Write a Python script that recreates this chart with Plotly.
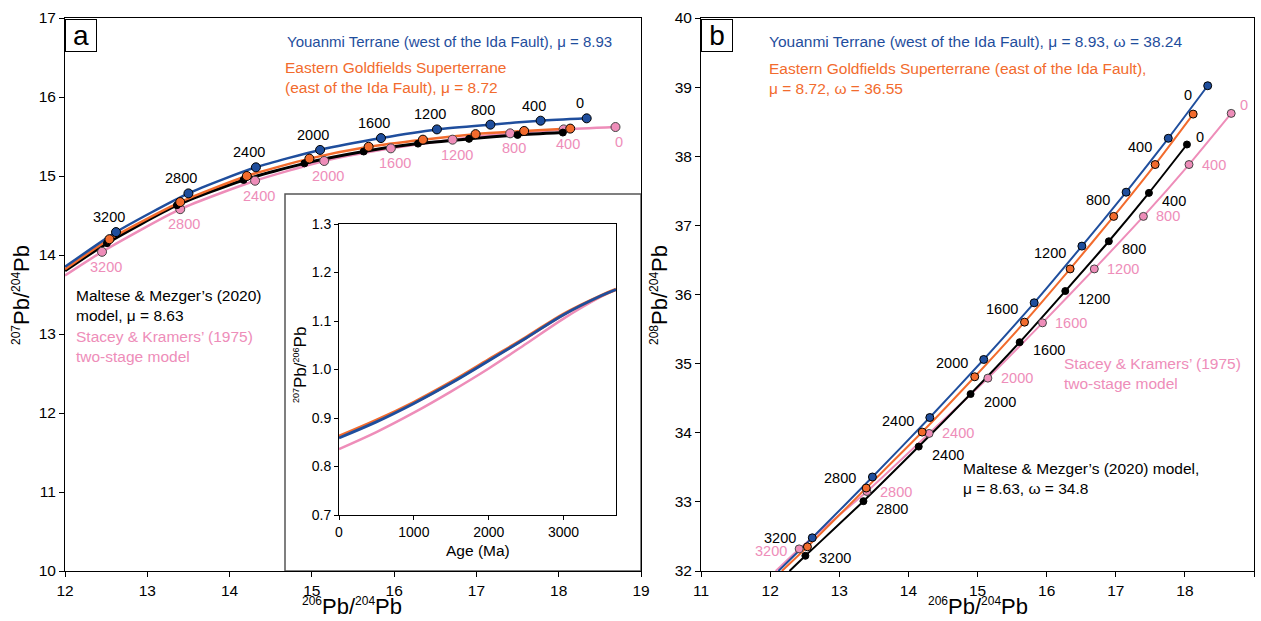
import plotly.graph_objects as go

# ---------------- data ----------------
ages = [0, 400, 800, 1200, 1600, 2000, 2400, 2800, 3200]
age_labels = [str(a) for a in ages]

# panel a: 207Pb/204Pb vs 206Pb/204Pb
a_blue_x = [18.34, 17.78, 17.17, 16.52, 15.84, 15.10, 14.32, 13.50, 12.62]
a_blue_y = [15.73, 15.70, 15.65, 15.59, 15.48, 15.33, 15.11, 14.78, 14.29]
a_orange_x = [18.14, 17.58, 16.99, 16.35, 15.69, 14.97, 14.21, 13.40, 12.54]
a_orange_y = [15.60, 15.57, 15.53, 15.46, 15.37, 15.22, 15.00, 14.67, 14.20]
a_black_x = [18.05, 17.50, 16.91, 16.29, 15.63, 14.91, 14.17, 13.36, 12.51]
a_black_y = [15.55, 15.52, 15.47, 15.41, 15.31, 15.16, 14.95, 14.63, 14.15]
a_pink_x = [18.69, 18.06, 17.41, 16.71, 15.96, 15.15, 14.31, 13.40, 12.45]
a_pink_y = [15.62, 15.59, 15.54, 15.46, 15.35, 15.19, 14.94, 14.58, 14.04]
# where each curve leaves the left edge of panel a (blue, orange, black, pink)
a_edge_x = [12.0, 12.0, 12.0, 12.0]
a_edge_y = [13.85, 13.82, 13.80, 13.74]

# panel b: 208Pb/204Pb vs 206Pb/204Pb
b_blue_x = [18.33, 17.76, 17.15, 16.51, 15.82, 15.09, 14.31, 13.48, 12.61]
b_blue_y = [39.02, 38.26, 37.48, 36.70, 35.88, 35.06, 34.22, 33.36, 32.48]
b_orange_x = [18.12, 17.57, 16.97, 16.34, 15.68, 14.96, 14.20, 13.39, 12.54]
b_orange_y = [38.61, 37.88, 37.13, 36.37, 35.60, 34.81, 34.01, 33.20, 32.35]
b_black_x = [18.03, 17.48, 16.90, 16.27, 15.61, 14.90, 14.15, 13.35, 12.51]
b_black_y = [38.17, 37.47, 36.77, 36.05, 35.31, 34.56, 33.80, 33.01, 32.22]
b_pink_x = [18.67, 18.06, 17.40, 16.69, 15.94, 15.15, 14.30, 13.40, 12.42]
b_pink_y = [38.62, 37.88, 37.13, 36.37, 35.59, 34.79, 33.99, 33.15, 32.32]
# where each line leaves the bottom edge of panel b (blue, orange, black, pink)
b_edge_x = [12.12, 12.17, 12.28, 12.08]
b_edge_y = [32.0, 32.0, 32.0, 32.0]

# inset: 207Pb/206Pb vs age
inset_age = [0, 500, 1000, 1500, 2000, 2500, 3000, 3500, 3700]
inset_blue = [0.859, 0.892, 0.930, 0.972, 1.018, 1.065, 1.113, 1.152, 1.165]
inset_orange = [0.862, 0.895, 0.932, 0.974, 1.020, 1.066, 1.114, 1.152, 1.165]
inset_pink = [0.836, 0.871, 0.911, 0.955, 1.002, 1.053, 1.105, 1.150, 1.165]

# ---------------- style ----------------
BLUE = "#1F4E9D"
ORANGE = "#F26B2D"
PINK = "#EE8DB9"
BLACK = "#000000"
FONT = "Liberation Sans, Arial, sans-serif"
W, H = 1261, 621


def px(x):
    return x / W


def py(y):
    return 1 - y / H


fig = go.Figure()


def curve(x, y, ex, ey, color, width, xa, ya):
    fig.add_trace(go.Scatter(
        x=[ex] + list(reversed(x)), y=[ey] + list(reversed(y)),
        mode="lines", line=dict(color=color, width=width, shape="spline", smoothing=0.6),
        xaxis=xa, yaxis=ya, hoverinfo="skip", showlegend=False))


def marks(x, y, fill, edge, size, xa, ya):
    fig.add_trace(go.Scatter(
        x=x, y=y, mode="markers",
        marker=dict(color=fill, size=size, line=dict(color=edge, width=1)),
        xaxis=xa, yaxis=ya, showlegend=False))


series_a = [
    (a_pink_x, a_pink_y, PINK, "#444444", 2.5, 3),
    (a_black_x, a_black_y, BLACK, BLACK, 3, 2),
    (a_orange_x, a_orange_y, ORANGE, BLACK, 2.5, 1),
    (a_blue_x, a_blue_y, BLUE, BLACK, 2.5, 0),
]
for x, y, c, e, w, k in series_a:
    curve(x, y, a_edge_x[k], a_edge_y[k], c, w, "x", "y")
for x, y, c, e, w, k in series_a:
    marks(x, y, c, e, 9 if c != BLACK else 7, "x", "y")

series_b = [
    (b_pink_x, b_pink_y, PINK, "#444444", 3),
    (b_black_x, b_black_y, BLACK, BLACK, 2),
    (b_orange_x, b_orange_y, ORANGE, BLACK, 1),
    (b_blue_x, b_blue_y, BLUE, BLACK, 0),
]
for x, y, c, e, k in series_b:
    curve(x, y, b_edge_x[k], b_edge_y[k], c, 2, "x2", "y2")
for x, y, c, e, k in series_b:
    marks(x, y, c, e, 8 if c != BLACK else 7, "x2", "y2")

# inset curves
for yv, c, w in [(inset_pink, PINK, 2.5), (inset_orange, ORANGE, 3.5), (inset_blue, BLUE, 2.8)]:
    fig.add_trace(go.Scatter(x=inset_age, y=yv, mode="lines",
                             line=dict(color=c, width=w, shape="spline"),
                             xaxis="x3", yaxis="y3", showlegend=False, hoverinfo="skip"))

ann = []
AGEF = dict(family=FONT, size=14.5)

# panel a age labels
for x, y, t in zip(a_blue_x, a_blue_y, age_labels):
    ann.append(dict(x=x, y=y, xref="x", yref="y", text=t, showarrow=False,
                    xanchor="center", yanchor="middle",
                    xshift=-7, yshift=15, font=dict(AGEF, color=BLACK)))
for x, y, t in zip(a_pink_x, a_pink_y, age_labels):
    ann.append(dict(x=x, y=y, xref="x", yref="y", text=t, showarrow=False,
                    xanchor="center", yanchor="middle",
                    xshift=4, yshift=-15, font=dict(AGEF, color=PINK)))

# panel b age labels (label drop below the blue point shrinks with age)
blue_label_drop = [9, 9, 8, 7, 6, 4, 3, 1, 0]
for i, (x, y, t) in enumerate(zip(b_blue_x, b_blue_y, age_labels)):
    ann.append(dict(x=x, y=y, xref="x2", yref="y2", text=t, showarrow=False,
                    xanchor="right", yanchor="middle", xshift=-14, yshift=-blue_label_drop[i],
                    font=dict(AGEF, color=BLACK)))
for i, (x, y, t) in enumerate(zip(b_black_x, b_black_y, age_labels)):
    if i == 0:
        sh = dict(xshift=7, yshift=8)
    elif i == len(age_labels) - 1:
        sh = dict(xshift=12, yshift=-2)
    else:
        sh = dict(xshift=11, yshift=-8)
    ann.append(dict(x=x, y=y, xref="x2", yref="y2", text=t, showarrow=False,
                    xanchor="left", yanchor="middle", font=dict(AGEF, color=BLACK), **sh))
for i, (x, y, t) in enumerate(zip(b_pink_x, b_pink_y, age_labels)):
    if i == 0:
        sh = dict(xanchor="left", xshift=7, yshift=8)
    elif i == len(age_labels) - 1:
        sh = dict(xanchor="right", xshift=-10, yshift=-2)
    else:
        sh = dict(xanchor="left", xshift=11, yshift=0)
    ann.append(dict(x=x, y=y, xref="x2", yref="y2", text=t, showarrow=False,
                    yanchor="middle", font=dict(AGEF, color=PINK), **sh))

TXT = dict(family=FONT, size=15.5)


def note(x, y, text, color, size=15.5):
    ann.append(dict(x=px(x), y=py(y), xref="paper", yref="paper", text=text, showarrow=False,
                    xanchor="left", yanchor="middle", align="left",
                    font=dict(family=FONT, size=size, color=color)))


note(285, 42, "Youanmi Terrane (west of the Ida Fault), μ = 8.93", BLUE, 15)
note(283, 77, "Eastern Goldfields Superterrane<br>(east of the Ida Fault), μ = 8.72", ORANGE)
note(74, 305, "Maltese &amp; Mezger’s (2020)<br>model, μ = 8.63", BLACK)
note(74, 346, "Stacey &amp; Kramers’ (1975)<br>two-stage model", PINK)

note(767, 42, "Youanmi Terrane (west of the Ida Fault), μ = 8.93, ω = 38.24", BLUE)
note(767, 78, "Eastern Goldfields Superterrane (east of the Ida Fault),<br>μ = 8.72, ω = 36.55", ORANGE)
note(1062, 373, "Stacey &amp; Kramers’ (1975)<br>two-stage model", PINK)
note(961, 478, "Maltese &amp; Mezger’s (2020) model,<br>μ = 8.63, ω = 34.8", BLACK)

# panel letters
for xl, letter in [(65, "a"), (701, "b")]:
    ann.append(dict(x=px(xl), y=py(18.5), xref="paper", yref="paper", text=letter,
                    showarrow=False, xanchor="left", yanchor="top", width=30, height=31,
                    bordercolor=BLACK, borderwidth=1, borderpad=0, bgcolor="white",
                    font=dict(family=FONT, size=28, color=BLACK), valign="middle"))

SUP = '<sup><span style="font-size:12px">{}</span></sup>'
title_a = SUP.format("207") + "Pb/" + SUP.format("204") + "Pb"
title_b = SUP.format("208") + "Pb/" + SUP.format("204") + "Pb"
title_x = SUP.format("206") + "Pb/" + SUP.format("204") + "Pb"
TF = dict(family=FONT, size=22, color=BLACK)
for xx, yy, t, ang in [(352, 606, title_x, 0), (978, 606, title_x, 0),
                       (21, 295, title_a, -90), (659, 295, title_b, -90)]:
    ann.append(dict(x=px(xx), y=py(yy), xref="paper", yref="paper", text=t,
                    showarrow=False, textangle=ang, xanchor="center", yanchor="middle", font=TF))
# inset titles
SUPS = '<sup><span style="font-size:9px">{}</span></sup>'
ann.append(dict(x=px(301), y=py(365), xref="paper", yref="paper",
                text=SUPS.format("207") + "Pb/" + SUPS.format("206") + "Pb",
                showarrow=False, textangle=-90, xanchor="center", yanchor="middle",
                font=dict(family=FONT, size=17, color=BLACK)))
ann.append(dict(x=px(478), y=py(550), xref="paper", yref="paper", text="Age (Ma)",
                showarrow=False, xanchor="center", yanchor="middle",
                font=dict(family=FONT, size=15.5, color=BLACK)))

AX = dict(showline=True, linecolor="black", linewidth=1, mirror=True, ticks="outside",
          ticklen=5, tickcolor="black", showgrid=False, zeroline=False,
          tickfont=dict(family=FONT, size=15.5, color=BLACK), automargin=False)

fig.update_layout(
    width=W, height=H, margin=dict(l=0, r=0, t=0, b=0),
    paper_bgcolor="white", plot_bgcolor="white", showlegend=False,
    xaxis=dict(AX, domain=[px(65), px(641)], range=[12, 19], dtick=1, anchor="y"),
    yaxis=dict(AX, domain=[py(571), py(18)], range=[10, 17], dtick=1, anchor="x"),
    xaxis2=dict(AX, domain=[px(701), px(1254)], range=[11, 19], dtick=1, anchor="y2"),
    yaxis2=dict(AX, domain=[py(571), py(18)], range=[32, 40], dtick=1, anchor="x2"),
    xaxis3=dict(AX, domain=[px(339), px(616)], range=[0, 3700], tickvals=[0, 1000, 2000, 3000],
                anchor="y3", tickfont=dict(family=FONT, size=14, color=BLACK), ticklen=4),
    yaxis3=dict(AX, domain=[py(515), py(224)], range=[0.7, 1.3], dtick=0.1, tickformat=".1f",
                anchor="x3", tickfont=dict(family=FONT, size=14, color=BLACK), ticklen=4),
    annotations=ann,
    shapes=[dict(type="rect", xref="paper", yref="paper", x0=px(285), x1=px(641),
                 y0=py(571), y1=py(194), fillcolor="white",
                 line=dict(color="#555555", width=1.5), layer="below")],
)

fig.write_html("out.html")
